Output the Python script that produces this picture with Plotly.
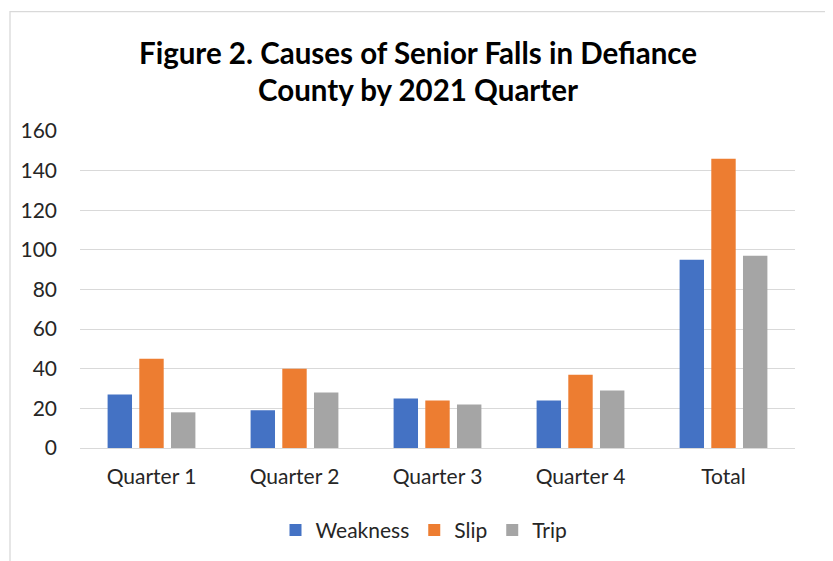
import plotly.graph_objects as go

categories = ["Quarter 1", "Quarter 2", "Quarter 3", "Quarter 4", "Total"]
weakness = [27, 19, 25, 24, 95]
slip = [45, 40, 24, 37, 146]
trip = [18, 28, 22, 29, 97]
series_names = ["Weakness", "Slip", "Trip"]
colors = ["#4472C4", "#ED7D31", "#A5A5A5"]
y_ticks = [0, 20, 40, 60, 80, 100, 120, 140, 160]

# page body has an 8px default margin; work in window pixels and shift
OFF = 8
W, H = 833 - OFF, 561 - OFF
L, R, T, B = 80 - OFF, 795 - OFF, 131 - OFF, 449.5 - OFF

def px_x(x):
    return (x - OFF - L) / (R - L)

def px_y(y):
    return (B - (y - OFF)) / (B - T)

FONT = "Lato"
TXT = "#262626"
fig = go.Figure()
for name, vals, col in zip(series_names, [weakness, slip, trip], colors):
    fig.add_trace(go.Bar(x=categories, y=vals, name=name, marker=dict(color=col, line=dict(width=0))))

fig.update_layout(
    width=W, height=H,
    margin=dict(l=L, r=W - R, t=T, b=H - B, pad=0),
    paper_bgcolor="white", plot_bgcolor="white",
    barmode="group", bargap=0.335, bargroupgap=0.23,
    font=dict(family=FONT, size=21, color=TXT),
    showlegend=True,
    legend=dict(orientation="h", x=px_x(424), xanchor="center", y=px_y(531), yanchor="middle",
                font=dict(size=21, color=TXT), bgcolor="rgba(0,0,0,0)", itemwidth=30),
    xaxis=dict(showgrid=False, zeroline=False, showline=False, ticks="", ticklabelstandoff=14,
               tickfont=dict(size=21, color=TXT)),
    yaxis=dict(range=[0, 160], tickvals=y_ticks, showgrid=True, gridcolor="#D9D9D9", gridwidth=1.3,
               zeroline=True, zerolinecolor="#D9D9D9", zerolinewidth=1.3, showline=False,
               ticks="", ticklabelstandoff=22, tickfont=dict(size=21, color=TXT)),
)

fig.add_annotation(text="<b>Figure 2. Causes of Senior Falls in Defiance</b>", xref="paper", yref="paper",
                   x=px_x(417.5), y=px_y(52), xanchor="center", yanchor="middle", showarrow=False,
                   font=dict(family=FONT, size=29.5, color="#000000"))
fig.add_annotation(text="<b>County by 2021 Quarter</b>", xref="paper", yref="paper",
                   x=px_x(417.5), y=px_y(89), xanchor="center", yanchor="middle", showarrow=False,
                   font=dict(family=FONT, size=29.5, color="#000000"))

fig.add_shape(type="rect", xref="paper", yref="paper",
              x0=px_x(10), x1=px_x(829), y0=px_y(575), y1=px_y(11),
              line=dict(color="#D9D9D9", width=1.3), fillcolor="rgba(0,0,0,0)", layer="below")

fig.write_html("out.html")
